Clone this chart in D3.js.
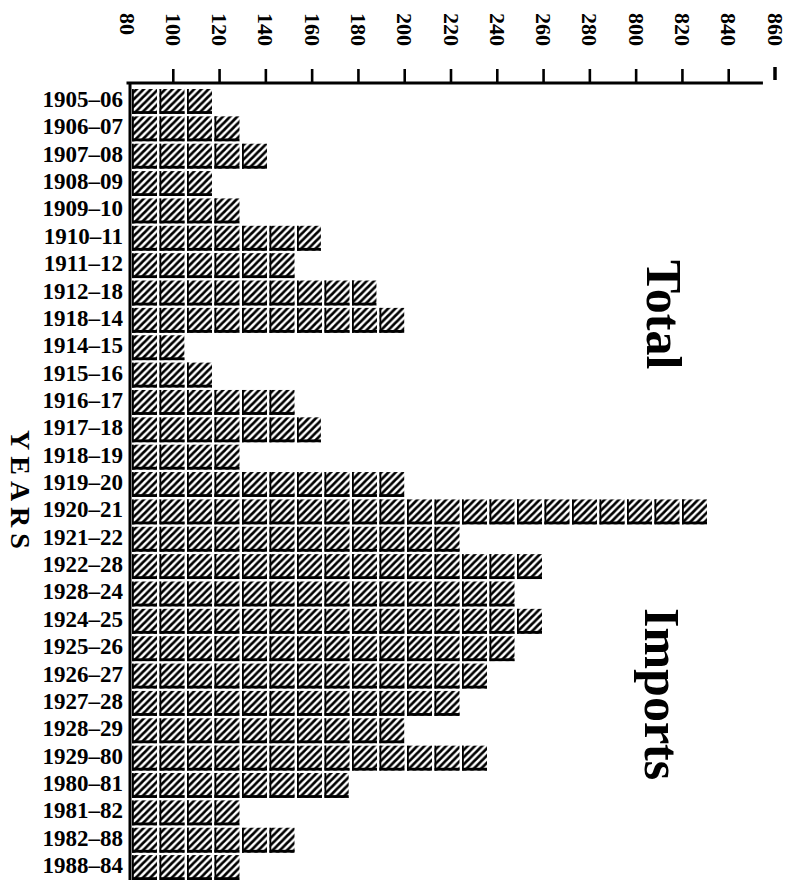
<!DOCTYPE html>
<html>
<head>
<meta charset="utf-8">
<script src="https://cdn.jsdelivr.net/npm/d3@7"></script>
<style>
  html, body { margin: 0; padding: 0; background: #fff; }
  svg { display: block; }
  text { font-family: "Liberation Serif", "DejaVu Serif", serif; font-weight: bold; fill: #000; }
</style>
</head>
<body>
<svg id="chart" width="793" height="885"></svg>
<script>
// ---- data ----
const categories = ["1905–06","1906–07","1907–08","1908–09","1909–10","1910–11","1911–12","1912–18","1918–14","1914–15","1915–16","1916–17","1917–18","1918–19","1919–20","1920–21","1921–22","1922–28","1928–24","1924–25","1925–26","1926–27","1927–28","1928–29","1929–80","1980–81","1981–82","1982–88","1988–84"];
const values = [117,129,141,117,129,164,153,188,200,105,117,153,164,129,200,331,224,260,248,260,248,236,224,200,236,176,129,153,129];
const tickValues = [80,100,120,140,160,180,200,220,240,260,280,300,320,340,360];
const tickLabels = ["80","100","120","140","160","180","200","220","240","260","280","800","820","840","860"];
const axisEnd = 355;
const titleTop = "Total";
const titleBottom = "Imports";
const yTitle = "YEARS";

// ---- drawing ----
const svg = d3.select("#chart");
const x = d3.scaleLinear().domain([80, 360]).range([126.5, 774.5]);
const y = d3.scaleBand().domain(categories).range([89, 880]).paddingInner(0.09);
const axisY = 83;

// hatch pattern
const defs = svg.append("defs");
const P = 7.2;
const pat = defs.append("pattern").attr("id", "hatch")
  .attr("patternUnits", "userSpaceOnUse").attr("width", P).attr("height", P);
pat.append("path").attr("d", `M-2,2 L2,-2 M0,${P} L${P},0 M${P-2},${P+2} L${P+2},${P-2}`)
  .attr("stroke", "#000").attr("stroke-width", 2.7);

// top axis
const axis = d3.axisTop(x).tickValues(tickValues)
  .tickFormat((d, i) => tickLabels[i]).tickSize(14).tickSizeOuter(0);
const gA = svg.append("g").attr("transform", `translate(0,${axisY})`).call(axis);
gA.select(".domain").remove();
gA.selectAll(".tick line").attr("stroke", "#000")
  .attr("y2", d => d === 360 ? -16 : -14).attr("y1", d => d === 360 ? -3 : 0)
  .attr("stroke-width", d => d === 360 ? 3.5 : 2.6)
  .style("display", d => d === 80 ? "none" : null);
gA.selectAll(".tick text")
  .attr("x", null).attr("y", null).attr("dy", null)
  .attr("text-anchor", "start")
  .attr("font-size", 22)
  .attr("font-family", "Liberation Serif, serif")
  .attr("font-weight", "bold")
  .attr("fill", "#000")
  .attr("transform", "translate(-7.5,-70) rotate(90)");
svg.append("line")
  .attr("x1", x(80)).attr("x2", x(axisEnd))
  .attr("y1", axisY).attr("y2", axisY)
  .attr("stroke", "#000").attr("stroke-width", 3);

// vertical axis
svg.append("line")
  .attr("x1", x(80) + 3.5).attr("x2", x(80) + 3.5)
  .attr("y1", axisY).attr("y2", y.range()[1])
  .attr("stroke", "#000").attr("stroke-width", 3);

// year labels
svg.append("g").selectAll("text").data(categories).join("text")
  .attr("x", 123).attr("y", d => y(d) + 18)
  .attr("text-anchor", "end").attr("font-size", 23)
  .text(d => d);

// bars as rows of hatched cells
const pitch = 27.5, gap = 2.5;
const x0 = x(80) + 5.5;
const bh = y.bandwidth();
const rows = svg.append("g").selectAll("g").data(values).join("g")
  .attr("transform", (d, i) => `translate(0,${y(categories[i])})`);
rows.each(function(v) {
  const len = x(v) - x0;
  const n = Math.ceil(len / pitch - 0.1);
  const cells = d3.range(n).map(i => ({ cx: x0 + i * pitch, w: Math.min(pitch - gap, len - i * pitch) }));
  const g = d3.select(this);
  g.selectAll("rect.c").data(cells).join("rect").attr("class", "c")
    .attr("x", c => c.cx).attr("y", 0).attr("width", c => c.w).attr("height", bh)
    .attr("fill", "url(#hatch)");
  g.selectAll("rect.b").data(cells).join("rect").attr("class", "b")
    .attr("x", c => c.cx).attr("y", bh - 2.8).attr("width", c => c.w).attr("height", 2.8)
    .attr("fill", "#000");
  g.selectAll("rect.l").data(cells).join("rect").attr("class", "l")
    .attr("x", c => c.cx).attr("y", 0).attr("width", 1.8).attr("height", bh)
    .attr("fill", "#000");
});

// titles
svg.append("text").attr("transform", "translate(647,260) rotate(90)")
  .attr("font-size", 50).text(titleTop);
svg.append("text").attr("transform", "translate(645,608) rotate(90)")
  .attr("font-size", 50).text(titleBottom);
svg.append("text").attr("transform", "translate(11,430) rotate(90)")
  .attr("font-size", 28).attr("letter-spacing", 6).text(yTitle);
</script>
</body>
</html>
